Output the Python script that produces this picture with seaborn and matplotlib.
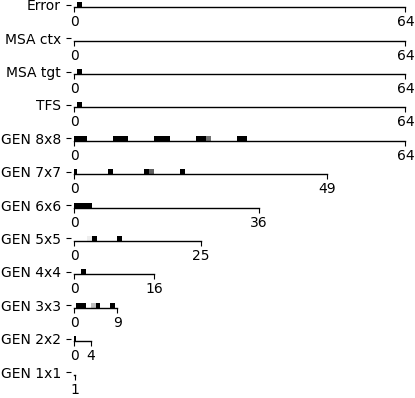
import numpy as np
import matplotlib
matplotlib.use("Agg")
import matplotlib.pyplot as plt
import seaborn as sns

# row labels (top to bottom) and number of cells in each row
labels = ['Error', 'MSA ctx', 'MSA tgt', 'TFS', 'GEN 8x8', 'GEN 7x7',
          'GEN 6x6', 'GEN 5x5', 'GEN 4x4', 'GEN 3x3', 'GEN 2x2', 'GEN 1x1']
sizes = [64, 64, 64, 64, 64, 49, 36, 25, 16, 9, 4, 1]

# non-empty cells per row: index -> darkness (0 white, 1 black)
error_cells = {1: 1.0}
msa_ctx_cells = {}
msa_tgt_cells = {1: 1.0}
tfs_cells = {1: 1.0}
gen8_cells = {0: 1.0, 1: 1.0, 2: 1.0, 8: 1.0, 9: 1.0, 10: 1.0,
              16: 1.0, 17: 1.0, 18: 1.0, 24: 1.0, 25: 1.0, 26: 0.55,
              32: 1.0, 33: 1.0}
gen7_cells = {0: 1.0, 7: 1.0, 14: 1.0, 15: 0.62, 21: 1.0}
gen6_cells = {0: 1.0, 1: 1.0, 2: 1.0, 3: 1.0}
gen5_cells = {3: 0.07, 4: 1.0, 9: 1.0}
gen4_cells = {2: 1.0}
gen3_cells = {1: 1.0, 2: 1.0, 4: 0.25, 5: 1.0, 8: 1.0}
gen2_cells = {0: 1.0}
gen1_cells = {}

row_cells = [error_cells, msa_ctx_cells, msa_tgt_cells, tfs_cells, gen8_cells,
             gen7_cells, gen6_cells, gen5_cells, gen4_cells, gen3_cells,
             gen2_cells, gen1_cells]

W, H = 415, 398
fig = plt.figure(figsize=(W / 100, H / 100), dpi=100)
cmap = sns.blend_palette(['white', 'black'], as_cmap=True)

for i, (label, n, cells) in enumerate(zip(labels, sizes, row_cells)):
    vals = np.zeros(n)
    for k, v in cells.items():
        vals[k] = v

    # place each row by hand, width grows with the number of cells
    spine_y = 7.2 + 33.4 * i
    width_px = max(5.24 * n - 4, 1.2)
    ax = fig.add_axes([74 / W, (H - spine_y) / H, width_px / W, 5 / H])

    sns.heatmap(vals.reshape(1, -1), ax=ax, cmap=cmap, vmin=0, vmax=1,
                cbar=False, xticklabels=False, yticklabels=False)

    ax.set_xlim(0.5, n + 0.5)
    ax.set_ylim(1, 0)
    ax.spines['bottom'].set_visible(True)
    ax.spines['bottom'].set_linewidth(1)
    ax.spines['left'].set_position(('outward', 2.5))

    if n == 1:
        ax.set_xticks([n + 0.5])
        ax.set_xticklabels([str(n)])
    else:
        ax.set_xticks([0.5, n + 0.5])
        ax.set_xticklabels(['0', str(n)])
    ax.set_yticks([0.5])
    ax.set_yticklabels([label], rotation=0)
    ax.tick_params(axis='both', labelsize=10, length=3.5, width=0.8,
                   bottom=True, left=True)
    ax.tick_params(axis='x', pad=2.2)

plt.savefig('out.png', dpi=100)
